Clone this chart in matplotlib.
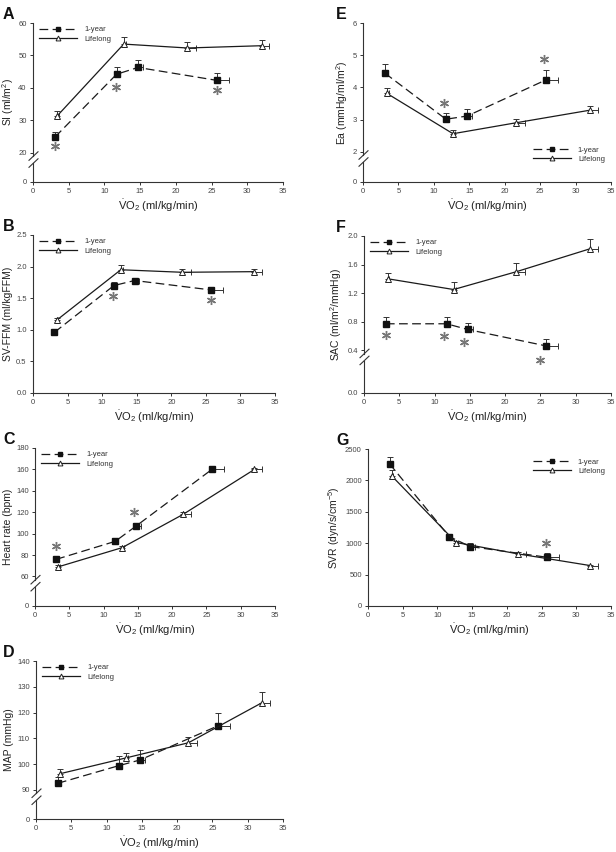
import numpy as np
import matplotlib
matplotlib.use('Agg')
import matplotlib.pyplot as plt
from matplotlib.lines import Line2D

plt.rcParams['font.family'] = ['Liberation Sans', 'DejaVu Sans']
plt.rcParams['mathtext.fontset'] = 'custom'
plt.rcParams['mathtext.rm'] = 'Liberation Sans'
plt.rcParams['mathtext.it'] = 'Liberation Sans:italic'

# VO2 (ml/kg/min) for each stage, and the right-hand SD bars
vo2_1yr = [3.1, 11.7, 14.7, 25.8]
vo2_life = [3.4, 12.7, 21.6, 32.0]
vo2_1yr_err = [0.2, 0.3, 0.7, 1.7]
vo2_life_err = [0.2, 0.3, 1.2, 1.1]

# A: stroke index
si_1yr = [24.9, 44.2, 46.3, 42.3]
si_1yr_err = [1.6, 2.3, 2.3, 2.3]
si_life = [31.4, 53.5, 52.3, 53.0]
si_life_err = [1.6, 2.1, 1.8, 1.8]
si_star = [(3.1, 22.0), (11.6, 40.3), (25.8, 39.5)]

# B: SV-FFM
svffm_1yr = [0.96, 1.70, 1.78, 1.63]
svffm_1yr_err = [0.04, 0.05, 0.03, 0.05]
svffm_life = [1.15, 1.95, 1.91, 1.92]
svffm_life_err = [0.04, 0.07, 0.05, 0.04]
svffm_star = [(11.6, 1.54), (25.8, 1.47)]

# C: heart rate
hr_1yr = [76.0, 92.8, 106.9, 160.0]
hr_1yr_err = [2.0, 3.0, 3.5, 3.0]
hr_life = [69.0, 86.9, 118.0, 160.0]
hr_life_err = [1.5, 1.5, 2.0, 1.5]
hr_star = [(3.0, 88.0), (14.4, 120.6)]

# D: mean arterial pressure
map_1yr = [92.6, 99.4, 101.6, 114.9]
map_1yr_err = [2.3, 3.6, 4.0, 5.1]
map_life = [96.3, 102.4, 108.3, 123.8]
map_life_err = [1.9, 2.1, 2.3, 4.0]

# E: arterial elastance
ea_1yr = [4.44, 3.01, 3.11, 4.23]
ea_1yr_err = [0.28, 0.20, 0.23, 0.31]
ea_life = [3.81, 2.56, 2.90, 3.29]
ea_life_err = [0.18, 0.11, 0.13, 0.12]
ea_star = [(11.4, 3.50), (25.5, 4.87)]

# F: systemic arterial compliance
sac_1yr = [0.77, 0.77, 0.69, 0.46]
sac_1yr_err = [0.10, 0.09, 0.09, 0.09]
sac_life = [1.40, 1.25, 1.50, 1.82]
sac_life_err = [0.08, 0.10, 0.12, 0.14]
sac_star = [(3.1, 0.61), (11.3, 0.60), (14.2, 0.52), (24.9, 0.31)]

# G: systemic vascular resistance
svr_1yr = [2265, 1106, 947, 776]
svr_1yr_err = [110, 30, 50, 65]
svr_life = [2074, 1011, 830, 644]
svr_life_err = [90, 20, 25, 15]
svr_star = [(25.6, 1005)]

FIG_W, FIG_H = 616, 852

panels = [
    # letter, box (left, right, top, bottom px), y data, label, ticks, break (lo, k), legend, stars
    dict(letter='A', box=(33, 283, 23, 182), y1=si_1yr, e1=si_1yr_err, y2=si_life, e2=si_life_err,
         ylabel='SI (ml/m$^2$)', yticks=[0, 20, 30, 40, 50, 60], fmt='{:.0f}', brk=(20, 0.45),
         leg='upper left', stars=si_star),
    dict(letter='B', box=(33, 275, 235, 393), y1=svffm_1yr, e1=svffm_1yr_err, y2=svffm_life, e2=svffm_life_err,
         ylabel='SV-FFM (ml/kgFFM)', yticks=[0, 0.5, 1.0, 1.5, 2.0, 2.5], fmt='{:.1f}', brk=None,
         leg='upper left', stars=svffm_star),
    dict(letter='C', box=(35, 275, 448, 606), y1=hr_1yr, e1=hr_1yr_err, y2=hr_life, e2=hr_life_err,
         ylabel='Heart rate (bpm)', yticks=[0, 60, 80, 100, 120, 140, 160, 180], fmt='{:.0f}', brk=(60, 0.46),
         leg='upper left', stars=hr_star),
    dict(letter='D', box=(36, 283, 661, 819), y1=map_1yr, e1=map_1yr_err, y2=map_life, e2=map_life_err,
         ylabel='MAP (mmHg)', yticks=[0, 90, 100, 110, 120, 130, 140], fmt='{:.0f}', brk=(90, 0.125),
         leg='upper left', stars=[]),
    dict(letter='E', box=(363, 611, 23, 182), y1=ea_1yr, e1=ea_1yr_err, y2=ea_life, e2=ea_life_err,
         ylabel='Ea (mmHg/ml/m$^2$)', yticks=[0, 2, 3, 4, 5, 6], fmt='{:.0f}', brk=(2, 0.47),
         leg='lower right', stars=ea_star),
    dict(letter='F', box=(364, 611, 236, 393), y1=sac_1yr, e1=sac_1yr_err, y2=sac_life, e2=sac_life_err,
         ylabel='SAC (ml/m$^2$/mmHg)', yticks=[0, 0.4, 0.8, 1.2, 1.6, 2.0], fmt='{:.1f}', brk=(0.4, 1.5),
         leg='upper left', stars=sac_star),
    dict(letter='G', box=(368, 611, 449, 606), y1=svr_1yr, e1=svr_1yr_err, y2=svr_life, e2=svr_life_err,
         ylabel='SVR (dyn/s/cm$^{-5}$)', yticks=[0, 500, 1000, 1500, 2000, 2500], fmt='{:.0f}', brk=None,
         leg='upper right', stars=svr_star),
]

AX_COL = '#333333'
TXT_COL = '#222222'

fig = plt.figure(figsize=(FIG_W / 100, FIG_H / 100), dpi=100)

for p in panels:
    l, r, t, b = p['box']
    ax = fig.add_axes([l / FIG_W, 1 - b / FIG_H, (r - l) / FIG_W, (b - t) / FIG_H])
    w_px, h_px = r - l, b - t

    if p['brk'] is not None:
        lo, k = p['brk']
        fwd = lambda y, lo=lo, k=k: np.where(y >= lo, y, lo - (lo - y) * k)
        inv = lambda u, lo=lo, k=k: np.where(u >= lo, u, lo - (lo - u) / k)
        ax.set_yscale('function', functions=(fwd, inv))

    ymax = p['yticks'][-1]
    ax.set_xlim(0, 35)
    ax.set_ylim(0, ymax)

    zeros = np.zeros(4)
    ax.errorbar(vo2_1yr, p['y1'], yerr=[zeros, p['e1']], xerr=[zeros, vo2_1yr_err],
                color='#1a1a1a', ecolor='#333333', elinewidth=0.7, capsize=2, capthick=0.7,
                lw=0.9, dashes=(7, 3.5), marker='s', ms=4, mfc='#111111', mec='#111111',
                zorder=3)
    ax.errorbar(vo2_life, p['y2'], yerr=[zeros, p['e2']], xerr=[zeros, vo2_life_err],
                color='#1a1a1a', ecolor='#333333', elinewidth=0.7, capsize=2, capthick=0.7,
                lw=0.9, ls='-', marker='^', ms=4.5, mfc='white', mec='#222222', mew=0.7,
                zorder=4)

    if p['stars']:
        sx, sy = zip(*p['stars'])
        ax.plot(sx, sy, ls='none', marker=(6, 2, 0), ms=6.5, mew=1.0, color='#777777', zorder=5)

    # axes styling
    for s in ['top', 'right']:
        ax.spines[s].set_visible(False)
    ax.spines['bottom'].set_color(AX_COL)
    ax.spines['bottom'].set_linewidth(0.8)
    ax.set_xticks(range(0, 36, 5))
    ax.set_yticks(p['yticks'])
    ax.set_yticklabels([p['fmt'].format(v) for v in p['yticks']])
    ax.yaxis.set_minor_locator(plt.NullLocator())
    ax.tick_params(axis='both', direction='out', length=2.5, width=0.7, color=AX_COL,
                   labelsize=5.5, labelcolor='#444444', pad=2)

    if p['brk'] is None:
        ax.spines['left'].set_color(AX_COL)
        ax.spines['left'].set_linewidth(0.8)
    else:
        ax.spines['left'].set_visible(False)
        lo, k = p['brk']
        span = ymax - lo + lo * k
        frac = lo * k / span
        g1 = frac - 3.5 / h_px
        g2 = frac - 10.5 / h_px
        ax.plot([0, 0], [g1, 1], transform=ax.transAxes, color=AX_COL, lw=0.8, clip_on=False)
        ax.plot([0, 0], [0, g2], transform=ax.transAxes, color=AX_COL, lw=0.8, clip_on=False)
        for yc in (g1, g2):
            ax.plot([-4 / w_px, 5 / w_px], [yc - 4 / h_px, yc + 4.5 / h_px], transform=ax.transAxes,
                    color=AX_COL, lw=0.8, clip_on=False)

    ax.set_xlabel(r'$\dot{\mathrm{V}}\mathrm{O}_2$ (ml/kg/min)', fontsize=8, color=TXT_COL, labelpad=2)
    ax.set_ylabel(p['ylabel'], fontsize=7.5, color=TXT_COL, labelpad=2)

    handles = [
        Line2D([], [], color='#1a1a1a', lw=0.9, dashes=(7, 3.5), marker='s', ms=3.5,
               mfc='#111111', mec='#111111'),
        Line2D([], [], color='#1a1a1a', lw=0.9, ls='-', marker='^', ms=3.5,
               mfc='white', mec='#222222', mew=0.7),
    ]
    if p['leg'] == 'upper left':
        anchor = (0.0, 1.02)
    elif p['leg'] == 'upper right':
        anchor = (1.0, 0.98)
    else:
        anchor = (1.0, 0.08)
    leg = ax.legend(handles, ['1-year', 'Lifelong'], loc=p['leg'], bbox_to_anchor=anchor,
                    frameon=False, fontsize=5.5, handlelength=5.0, handletextpad=0.9,
                    labelspacing=0.25, borderpad=0.3)
    for txt in leg.get_texts():
        txt.set_color('#333333')

    lx = 3 if l < 300 else 336
    fig.text(lx / FIG_W, 1 - (t - 16) / FIG_H, p['letter'], fontsize=11.5, fontweight='bold',
             color='#111111', ha='left', va='top')

fig.savefig('out.png', dpi=100)
